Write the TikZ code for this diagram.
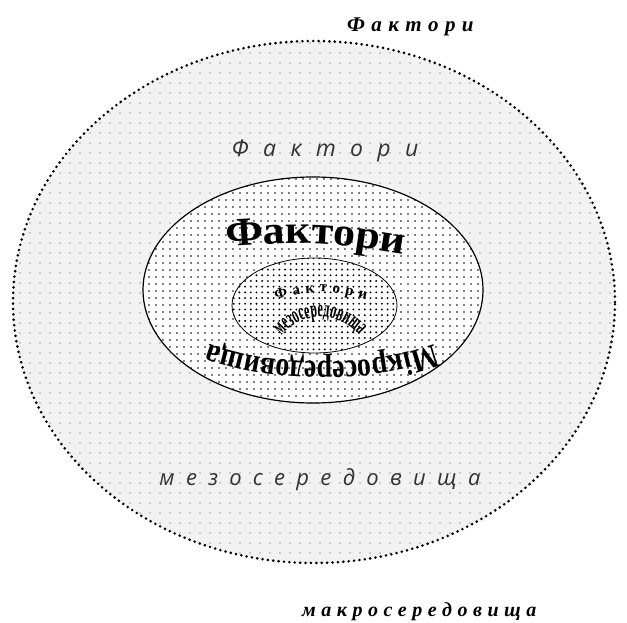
\documentclass[tikz,border=0pt]{standalone}
\usepackage{fontspec}
\setmainfont{Liberation Serif}
\newfontfamily\osans{Open Sans}
\newfontfamily\wideserif{Liberation Serif}[FakeStretch=1.1]
\newfontfamily\narrowserif{Liberation Serif}[FakeStretch=0.82]
\newfontfamily\condserif{Liberation Serif}[FakeStretch=0.5]
\newcommand\myspc[1]{\spaceskip=#1pt\relax}
\usetikzlibrary{decorations.text,patterns.meta}
\tikzset{
  outerell/.style={line width=2.9pt, dash pattern=on 0pt off 5.4pt, line cap=round},
  midell/.style={line width=1.2pt},
  innell/.style={line width=0.8pt},
  sanslbl/.style={font=\osans\itshape\fontsize{22}{22}\selectfont, text=black!80, inner sep=0pt},
  sanslblB/.style={font=\osans\itshape\fontsize{23}{23}\selectfont, text=black!80, inner sep=0pt},
  toplbl/.style={font=\bfseries\itshape\fontsize{21}{21}\selectfont, inner sep=0pt},
  botlbl/.style={font=\bfseries\itshape\fontsize{20}{20}\selectfont, inner sep=0pt},
}
\begin{document}
\begin{tikzpicture}[x=1pt,y=1pt]
\useasboundingbox (0,0) rectangle (627,-623);
% outer ellipse
\path[fill=black!5] (314,-302) ellipse[x radius=301, y radius=261];
\path[pattern={Dots[distance=10pt,radius=0.6pt]}, pattern color=black!70] (314,-302) ellipse[x radius=301, y radius=261];
\draw[outerell] (314,-302) ellipse[x radius=301, y radius=261];
% middle ellipse
\path[fill=white] (313,-290) ellipse[x radius=170, y radius=113];
\path[pattern={Dots[distance=6.5pt,radius=0.95pt]}, pattern color=black] (313,-290) ellipse[x radius=170, y radius=113];
\draw[midell] (313,-290) ellipse[x radius=170, y radius=113];
% inner ellipse
\path[fill=white] (314.5,-305.5) ellipse[x radius=82.5, y radius=47.5];
\path[pattern={Dots[distance=5.7pt,radius=1.05pt]}, pattern color=black] (314.5,-305.5) ellipse[x radius=82.5, y radius=47.5];
\draw[innell] (314.5,-305.5) ellipse[x radius=82.5, y radius=47.5];
% labels
\node[toplbl, anchor=base west] (macroA) at (347,-32) {\myspc{6.4}Ф а к т о р и};
\node[botlbl, anchor=base west] (macroB) at (302,-616) {\myspc{5.5}м а к р о с е р е д о в и щ а};
\node[sanslblB, anchor=base] (mesoA) at (325,-157) {\myspc{14.3}Ф а к т о р и};
\node[sanslbl, anchor=base] (mesoB) at (320,-485) {\myspc{11.3}м е з о с е р е д о в и щ а};
% curved texts
\path[decorate, decoration={text along path, text align=center,
  text={|\wideserif\bfseries\fontsize{40}{40}\selectfont|Фактори}}]
  (222,-247) .. controls (320,-241) .. (408,-255);
\path[decorate, decoration={text along path, text align=center,
  text={|\narrowserif\bfseries\fontsize{34}{34}\selectfont|Мікросередовища}}]
  (486.2,-308.6) arc[start angle=-15, end angle=-165, x radius=170, y radius=72];
\path[decorate, decoration={text along path, text align=center,
  text={|\bfseries\fontsize{15}{15}\selectfont\myspc{5.2}|Ф а к т о р и}}]
  (270,-301) .. controls (320,-289) .. (372,-301);
\path[decorate, decoration={text along path, text align=center,
  text={|\condserif\bfseries\fontsize{24}{24}\selectfont|мезосередовища}}]
  (277,-342) arc[start angle=150, end angle=30, radius=50];
\end{tikzpicture}
\end{document}
